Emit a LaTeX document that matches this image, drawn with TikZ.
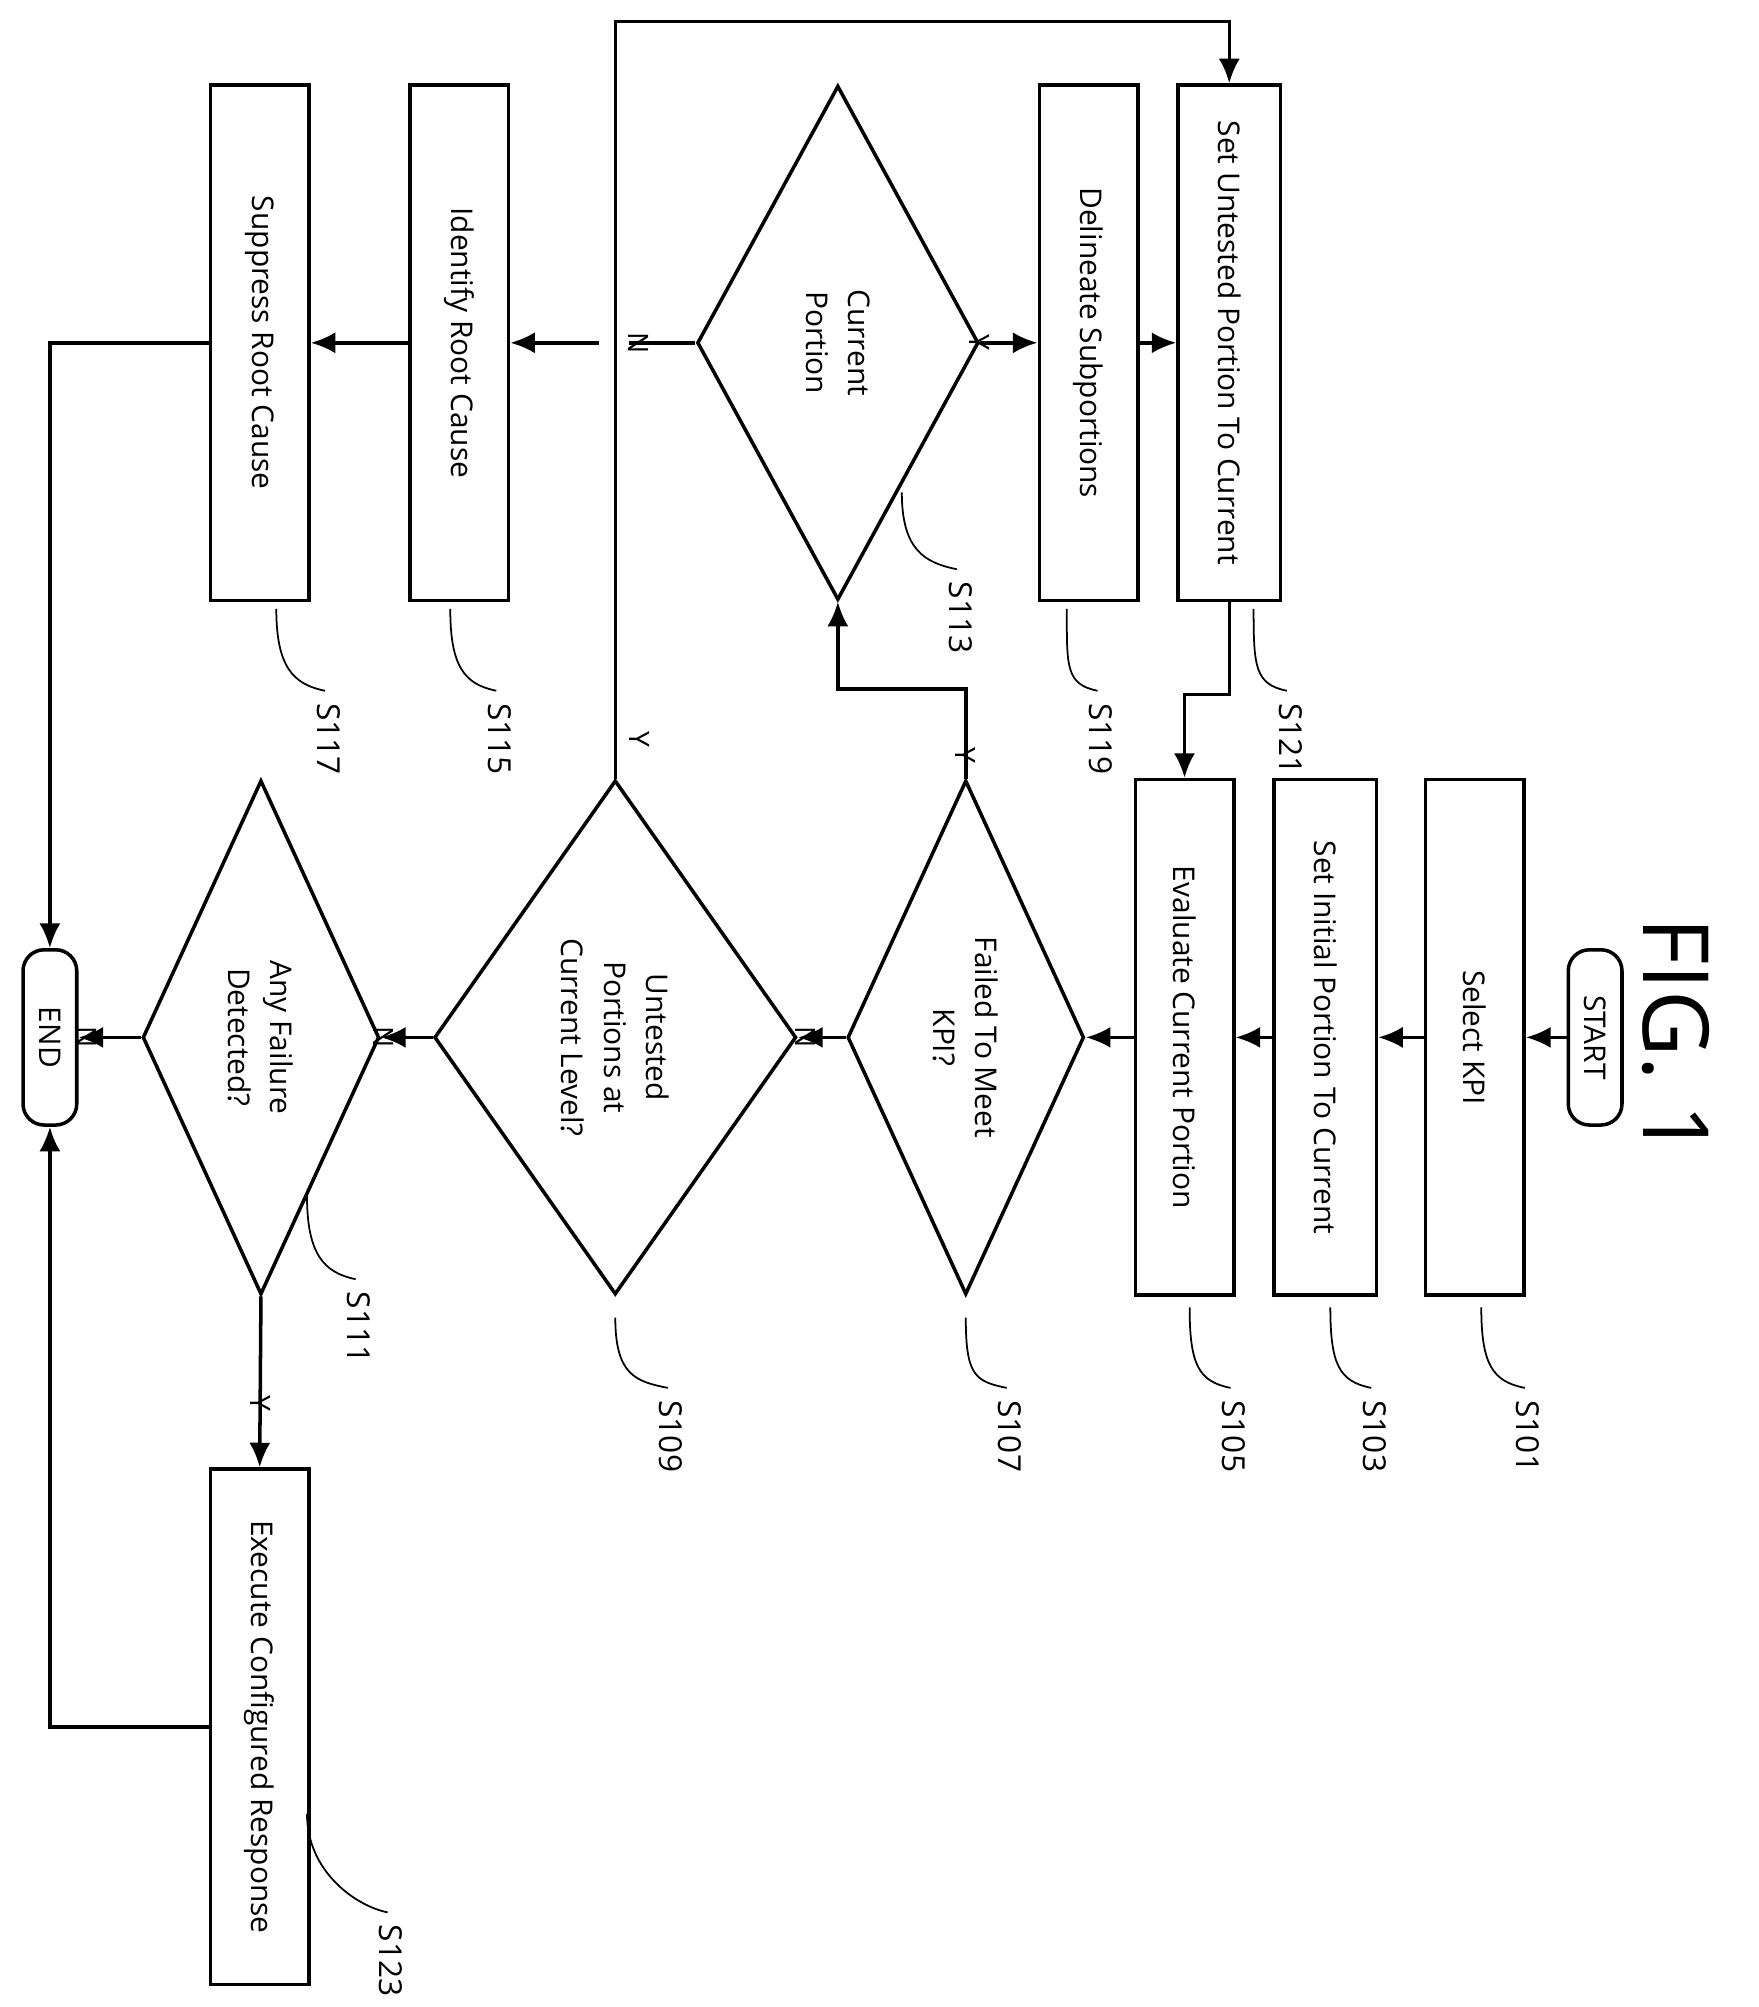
\documentclass[tikz,border=0pt]{standalone}
\usepackage{fontspec}
\setmainfont{Open Sans}
\usetikzlibrary{arrows.meta,shapes.geometric,calc,positioning}
\def\pu{0.01279cm}
\tikzset{
  box/.style={draw,line width=1pt,rotate=-90,minimum width=403*\pu,minimum height=77*\pu,inner sep=0pt},
  term/.style={draw,line width=1pt,rounded corners=6pt,rotate=-90,minimum width=137*\pu,minimum height=42*\pu,inner sep=0pt},
  dec/.style={draw,line width=1pt,shape=diamond,rotate=-90,aspect=2,inner sep=0pt,align=center,minimum width=402*\pu},
  arr/.style={line width=1pt,-{Latex[length=7pt,width=6pt]}},
  line/.style={line width=1pt},
  yn/.style={rotate=-90,font=\fontsize{8}{9}\selectfont},
  steplbl/.style={rotate=-90,font=\fontsize{9}{10}\selectfont}
}
\newcommand\stepmark[3]{\draw[line width=0.5pt] (#1) .. controls +(0,45) and +(-25,-5) .. (#2) node[steplbl,right=1pt]{#3};}
\begin{document}
\begin{tikzpicture}[x=0.01279cm,y=-0.01279cm,font=\fontsize{8.5}{12}\selectfont]
\useasboundingbox (0,0) rectangle (1375,1569);
\node[rotate=-90,font=\fontsize{26}{28}\selectfont] (fig) at (1310,811) {FIG. 1};
% main column
\node[term] (start) at (1247,811) {START};
\node[box] (s101) at (1153,811) {Select KPI};
\node[box,minimum height=80*\pu] (s103) at (1036,811) {Set Initial Portion To Current};
\node[box] (s105) at (926,811) {Evaluate Current Portion};
\node[dec,minimum height=185*\pu] (s107) at (755,811) {Failed To Meet\\KPI?};
\node[dec,minimum height=283*\pu] (s109) at (481,811) {Untested\\Portions at\\Current Level?};
\node[dec,minimum height=185*\pu] (s111) at (204,811) {Any Failure\\Detected?};
\node[term] (end) at (39,811) {END};
% upper column
\node[box,minimum height=80*\pu] (s121) at (961,268) {Set Untested Portion To Current};
\node[box] (s119) at (851,268) {Delineate Subportions};
\node[dec,minimum height=220*\pu] (s113) at (655,268) {Current\\Portion};
\node[box] (s115) at (359,268) {Identify Root Cause};
\node[box] (s117) at (203,268) {Suppress Root Cause};
\node[box] (s123) at (203,1350) {Execute Configured Response};
\coordinate (top) at (0,17);
\coordinate (gapR) at (492,268);
\coordinate (gapL) at (468,268);
% connectors
\draw[arr] (start) -- (s101);
\draw[arr] (s101) -- (s103);
\draw[arr] (s103) -- (s105);
\draw[arr] (s105) -- (s107);
\draw[arr] (s107) -- (s109) node[yn,pos=0.35,below]{N};
\draw[arr] (s109) -- (s111) node[yn,pos=0.5,below]{N};
\draw[arr] (s111) -- (end) node[yn,pos=0.5,below]{N};
\draw[arr] (s107.west) -- ++(0,-70) node[yn,pos=0.5,right]{Y} -| (s113.east);
\draw[arr] (s113) -- (s119) node[yn,pos=0.4,below]{Y};
\draw[arr] (s119) -- (s121);
\draw[arr] (s121.east) -- ++(0,72) -| (s105.west);
\draw[arr] (s109.west) -- (s109.west |- top) -| (s121.west);
\node[yn] at (500,578) {Y};
\draw[line] (s113.south) -- (gapR) node[yn,pos=0.5,below]{N};
\draw[arr] (gapL) -- (s115);
\draw[arr] (s115) -- (s117);
\draw[arr] (s117.south) -| (end.west);
\draw[arr] (s111.east) -- (s123.west) node[yn,pos=0.5,right]{Y};
\draw[arr] (s123.south) -| (end.east);
% step marks
\stepmark{1158,1022}{1192,1085}{S101}
\stepmark{1040,1022}{1072,1085}{S103}
\stepmark{930,1022}{962,1085}{S105}
\stepmark{755,1030}{787,1085}{S107}
\stepmark{481,1030}{522,1085}{S109}
\stepmark{240,935}{278,1000}{S111}
\stepmark{705,385}{748,445}{S113}
\stepmark{352,476}{388,540}{S115}
\stepmark{216,476}{254,540}{S117}
\stepmark{834,476}{858,540}{S119}
\stepmark{980,476}{1006,540}{S121}
\stepmark{240,1418}{303,1495}{S123}
\end{tikzpicture}
\end{document}
